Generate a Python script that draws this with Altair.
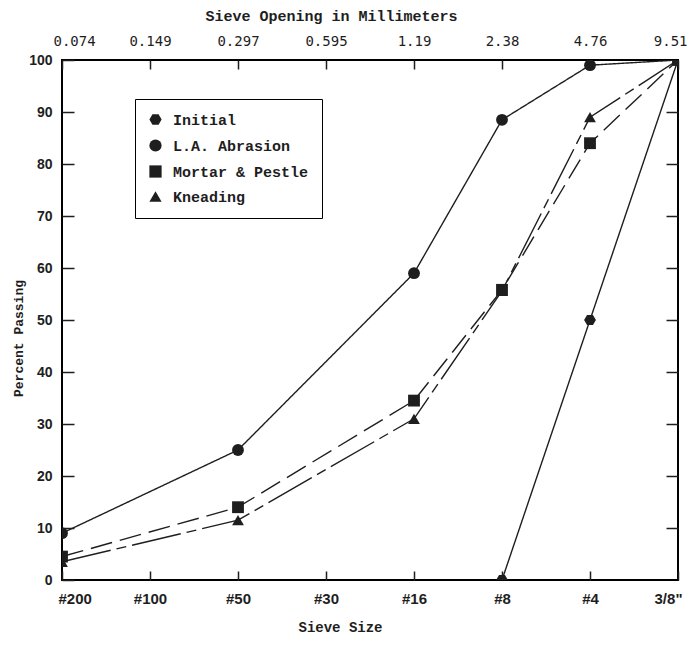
import altair as alt
import pandas as pd

sieves = ['#200', '#100', '#50', '#30', '#16', '#8', '#4', '3/8"']
openings = ['0.074', '0.149', '0.297', '0.595', '1.19', '2.38', '4.76', '9.51']
series = ['Initial', 'L.A. Abrasion', 'Mortar & Pestle', 'Kneading']

initial_sieves = ['#8', '#4', '3/8"']
initial_vals = [0, 50, 100]
test_sieves = ['#200', '#50', '#16', '#8', '#4', '3/8"']
la_vals = [9, 25, 59, 88.5, 99, 100]
mortar_vals = [4.5, 14, 34.5, 55.8, 84, 100]
knead_vals = [3.5, 11.5, 31, 55.6, 89, 100]

rows = []
for name, ss, vv in [('Initial', initial_sieves, initial_vals),
                     ('L.A. Abrasion', test_sieves, la_vals),
                     ('Mortar & Pestle', test_sieves, mortar_vals),
                     ('Kneading', test_sieves, knead_vals)]:
    for s, v in zip(ss, vv):
        rows.append({'series': name, 'line': name, 'sieve': s,
                     'idx': sieves.index(s), 'pct': v})
df = pd.DataFrame(rows)

INK = '#1e1e1e'
xscale = alt.Scale(domain=sieves, type='point', padding=0)
yscale = alt.Scale(domain=[0, 100], nice=False)

hexagon = 'M-0.5,-0.866L0.5,-0.866L1,0L0.5,0.866L-0.5,0.866L-1,0Z'

sieve_list = ",".join("'%s'" % s.replace('"', '\\"') for s in sieves)
top_expr = "[" + ",".join("'%s'" % o for o in openings) + "][indexof([" + sieve_list + "], datum.value)]"

x_bottom = alt.X('sieve:N', scale=xscale, axis=alt.Axis(
    orient='bottom', offset=-9, tickSize=9, tickWidth=1.5, tickColor=INK,
    domain=False, grid=False, labelAngle=0, labelFlush=True, labelFlushOffset=4,
    labelPadding=11,
    labelFont='Liberation Sans', labelFontWeight='bold', labelFontSize=15,
    labelColor=INK, title='Sieve Size', titleFont='Liberation Mono',
    titleFontWeight='bold', titleFontSize=14, titleColor=INK,
    titleX=278, titleY=60, titleBaseline='alphabetic', titleAlign='center'))

x_top = alt.X('sieve:N', scale=xscale, axis=alt.Axis(
    orient='top', offset=-9, tickSize=9, tickWidth=1.5, tickColor=INK,
    domain=False, grid=False, labelAngle=0, labelPadding=12,
    labelFlush=True, labelFlushOffset=9,
    labelExpr=top_expr, labelFont='DejaVu Sans Mono', labelFontSize=14,
    labelColor=INK, title='Sieve Opening in Millimeters', titleFont='Liberation Mono',
    titleFontWeight='bold', titleFontSize=15, titleColor=INK,
    titleX=269, titleY=-49, titleBaseline='alphabetic', titleAlign='center'))

y_left = alt.Y('pct:Q', scale=yscale, axis=alt.Axis(
    orient='left', offset=-12, tickSize=12, tickWidth=1.5, tickColor=INK,
    domain=False, grid=False, values=list(range(0, 101, 10)), labelPadding=10,
    labelFont='Liberation Sans', labelFontWeight='bold', labelFontSize=14,
    labelColor=INK, title='Percent Passing', titleFont='Liberation Mono',
    titleFontWeight='bold', titleFontSize=13, titleColor=INK,
    titleX=-56, titleY=278, titleAngle=270, titleBaseline='middle', titleAlign='center'))

y_right = alt.Y('pct:Q', scale=yscale, axis=alt.Axis(
    orient='right', offset=-12, tickSize=12, tickWidth=1.5, tickColor=INK,
    domain=False, grid=False, values=list(range(10, 100, 10)), labels=False, title=None))

lines = alt.Chart(df).mark_line(strokeWidth=1.4, color=INK, clip=True).encode(
    x=x_bottom, y=y_left,
    strokeDash=alt.StrokeDash('line:N', scale=alt.Scale(
        domain=series, range=[[1, 0], [1, 0], [22, 8], [50, 6, 10, 6]]), legend=None),
    order='idx:Q',
)

points = alt.Chart(df).mark_point(filled=True, size=140, color=INK, opacity=1, clip=True).encode(
    x=x_top, y=y_right,
    shape=alt.Shape('series:N', scale=alt.Scale(
        domain=series, range=[hexagon, 'circle', 'square', 'triangle-up']),
        legend=alt.Legend(
            orient='none', legendX=73, legendY=39, title=None,
            strokeColor='black', padding=13, rowPadding=9,
            symbolSize=150, symbolFillColor=INK, symbolStrokeColor=INK,
            symbolStrokeWidth=1, labelFont='Liberation Mono', labelFontWeight='bold',
            labelFontSize=15, labelColor=INK, labelOffset=10)),
)

chart = alt.layer(lines, points).resolve_axis(
    x='independent', y='independent'
).resolve_legend(shape='independent', strokeDash='independent').properties(
    width=616, height=520,
    autosize=alt.AutoSizeParams(type='none'),
    padding={'left': 54, 'top': 52, 'right': 13, 'bottom': 57},
    background='white',
).configure_view(stroke='black', strokeWidth=2)

chart.save('out.html', embed_options={'renderer': 'svg', 'actions': False})
